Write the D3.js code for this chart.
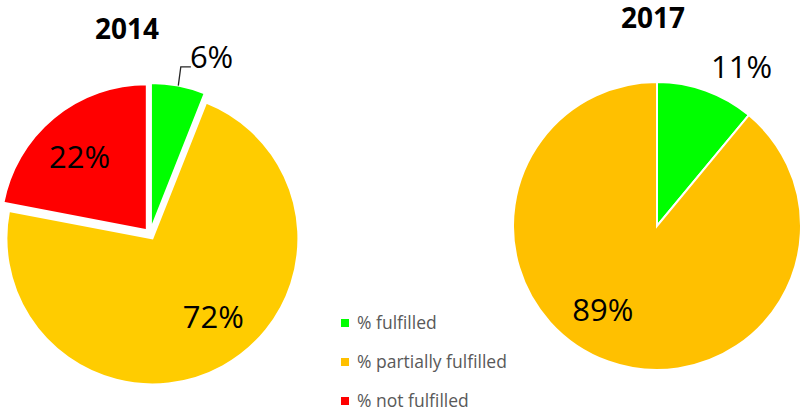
<!DOCTYPE html>
<html>
<head>
<meta charset="utf-8">
<script src="https://cdn.jsdelivr.net/npm/d3@7"></script>
<style>
  html, body { margin: 0; padding: 0; background: #fff; }
  svg { display: block; }
  text { font-family: "Open Sans", "Noto Sans", sans-serif; }
</style>
</head>
<body>
<svg id="chart" width="803" height="410"></svg>
<script>
// ---- data ----
const categories = ["% fulfilled", "% partially fulfilled", "% not fulfilled"];
const years = ["2014", "2017"];
const values2014 = [6, 72, 22];
const values2017 = [11, 89, 0];

// ---- styling / layout ----
const green = "#00FF00", red = "#FF0000";
const legendColors = [green, "#FFC000", red];
const pieLayouts = [
  { values: values2014, cx: 150, cy: 234, r: 146, explode: 5,
    colors: [green, "#FFCC00", red], titleX: 127, titleY: 39,
    outside: [true, false, false],
    nudge: [[30, -12], [13, -9], [-4, 3]], leader: [true, false, false] },
  { values: values2017, cx: 657, cy: 226, r: 144, explode: 0,
    colors: [green, "#FFC000", red], titleX: 653, titleY: 28,
    outside: [true, false, false],
    nudge: [[30, -7], [-21, -8], [0, 0]], leader: [false, false, false] }
];

const svg = d3.select("#chart");
const pie = d3.pie().sort(null).value(d => d).startAngle(0).endAngle(2 * Math.PI);

pieLayouts.forEach((P, pi) => {
  const g = svg.append("g");
  const arc = d3.arc().innerRadius(0).outerRadius(P.r);
  const arcs = pie(P.values);
  const dir = a => [Math.sin(a), -Math.cos(a)];

  arcs.forEach((d, i) => {
    if (d.value <= 0) return;
    const mid = (d.startAngle + d.endAngle) / 2;
    const [ux, uy] = dir(mid);
    const ox = P.cx + ux * P.explode, oy = P.cy + uy * P.explode;
    g.append("path")
      .attr("d", arc(d))
      .attr("transform", `translate(${ox},${oy})`)
      .attr("fill", P.colors[i])
      .attr("stroke", "#fff")
      .attr("stroke-width", 2)
      .attr("stroke-linejoin", "miter");
  });

  arcs.forEach((d, i) => {
    if (d.value <= 0) return;
    const mid = (d.startAngle + d.endAngle) / 2;
    const [ux, uy] = dir(mid);
    const ox = P.cx + ux * P.explode, oy = P.cy + uy * P.explode;
    const L = P.outside[i] ? P.r * 1.12 : P.r * 0.68;
    const x = ox + ux * L + P.nudge[i][0];
    const y = oy + uy * L + P.nudge[i][1];
    const t = g.append("text")
      .attr("x", x).attr("y", y)
      .attr("dy", "0.36em")
      .attr("text-anchor", "middle")
      .attr("font-size", 31)
      .attr("fill", "#000")
      .text(d.value + "%");
    if (P.leader[i]) {
      const bb = t.node().getBBox();
      const p0 = [ox + ux * P.r, oy + uy * P.r];
      const ly = y + 10.5;
      g.append("path")
        .attr("d", d3.line()([p0, [p0[0] + 2.5, ly], [bb.x + 1, ly]]))
        .attr("fill", "none")
        .attr("stroke", "#262626")
        .attr("stroke-width", 1.3);
    }
  });

  svg.append("text")
    .attr("x", P.titleX).attr("y", P.titleY)
    .attr("text-anchor", "middle")
    .attr("font-size", 28)
    .attr("font-weight", "bold")
    .attr("fill", "#000")
    .text(years[pi]);
});

// ---- legend ----
const legendY = d3.scalePoint().domain(categories).range([323, 401]);
const leg = svg.append("g");
categories.forEach((c, i) => {
  const yc = legendY(c);
  leg.append("rect")
    .attr("x", 341).attr("y", yc - 4)
    .attr("width", 8).attr("height", 8)
    .attr("fill", legendColors[i]);
  leg.append("text")
    .attr("x", 357).attr("y", yc + 6)
    .attr("font-size", 17.5)
    .attr("fill", "#595959")
    .text(c);
});
</script>
</body>
</html>
